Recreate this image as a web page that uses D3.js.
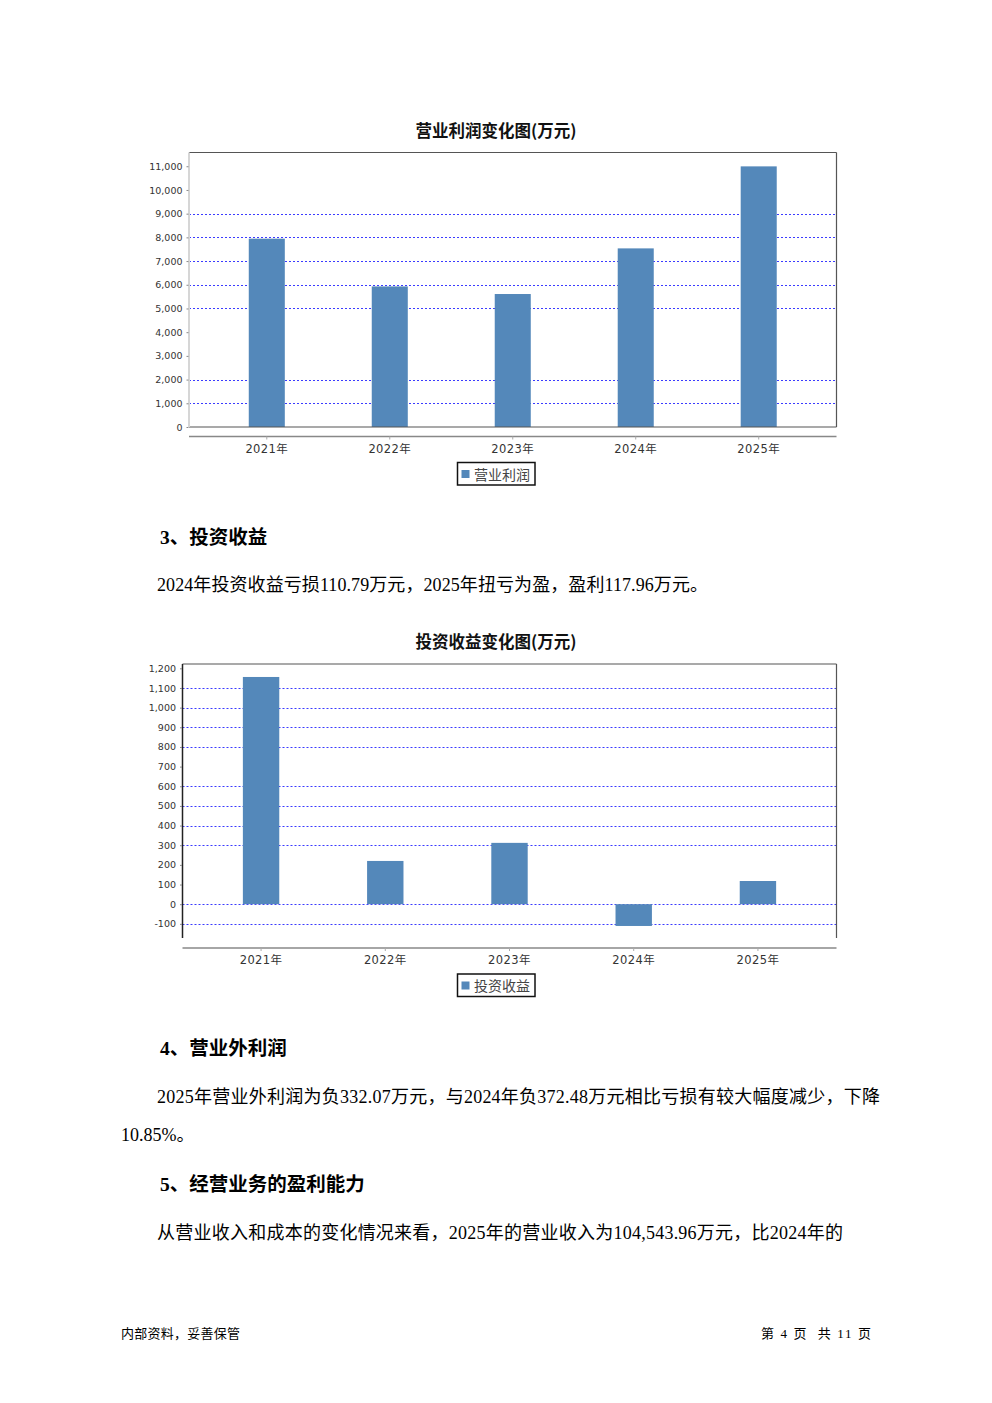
<!DOCTYPE html>
<html><head><meta charset="utf-8">
<script src="https://cdn.jsdelivr.net/npm/d3@7"></script>
<style>html,body{margin:0;padding:0;background:#fff;} svg{display:block;}</style>
</head><body>
<svg id="page" width="992" height="1403"></svg>
<script>
// ---------- data ----------
const years = ["2021年", "2022年", "2023年", "2024年", "2025年"];
const opProfit = [7945, 5930, 5610, 7535, 10995];          // 营业利润 (万元)
const invIncome = [1156, 220, 312, -110.79, 117.96];       // 投资收益 (万元)
const opTickValues = [0, 1000, 2000, 3000, 4000, 5000, 6000, 7000, 8000, 9000, 10000, 11000];
const opTickLabels = ["0", "1,000", "2,000", "3,000", "4,000", "5,000", "6,000", "7,000", "8,000", "9,000", "10,000", "11,000"];
const opGridValues = [1000, 2000, 5000, 6000, 7000, 8000, 9000];
const invTickValues = [-100, 0, 100, 200, 300, 400, 500, 600, 700, 800, 900, 1000, 1100, 1200];
const invTickLabels = ["-100", "0", "100", "200", "300", "400", "500", "600", "700", "800", "900", "1,000", "1,100", "1,200"];
const invGridValues = [-100, 0, 300, 400, 500, 600, 800, 900, 1000, 1100];

const BAR = "#5488ba";
const GRID = "#3b3bff";
const AXISFONT = "'DejaVu Sans','Noto Sans CJK SC',sans-serif";
const CJK = "'Noto Sans CJK SC',sans-serif";
const BODY = "'Liberation Serif','Noto Sans CJK SC',serif";

const svg = d3.select("#page");
svg.append("rect").attr("width", 992).attr("height", 1403).attr("fill", "#fff");

function drawChart(c) {
  const g = svg.append("g");
  const x = d3.scaleBand().domain(years).range([c.left, c.right]).paddingInner(0.707).paddingOuter(0.486);
  const y = d3.scaleLinear().domain(c.domain).range([c.bottom, c.top]);

  // title
  g.append("text").attr("x", 496).attr("y", c.titleY).attr("text-anchor", "middle")
    .attr("dominant-baseline", "central").attr("font-family", CJK).attr("font-weight", 700)
    .attr("font-size", 16.5).attr("fill", "#111").text(c.title);

  // grid
  g.append("g").selectAll("line").data(c.grid).join("line")
    .attr("x1", c.left).attr("x2", c.right)
    .attr("y1", d => Math.round(y(d)) + 0.5).attr("y2", d => Math.round(y(d)) + 0.5)
    .attr("stroke", GRID).attr("stroke-width", 1).attr("stroke-dasharray", "2,2");

  // bars
  g.append("g").selectAll("rect").data(c.values).join("rect")
    .attr("x", (d, i) => x(years[i])).attr("width", x.bandwidth())
    .attr("y", d => y(Math.max(0, d))).attr("height", d => Math.abs(y(d) - y(0)))
    .attr("fill", BAR);

  // border
  g.append("line").attr("x1", c.left).attr("x2", c.right).attr("y1", c.top).attr("y2", c.top)
    .attr("stroke", "#555").attr("stroke-width", 1.2);
  g.append("line").attr("x1", c.right).attr("x2", c.right).attr("y1", c.top).attr("y2", c.bottom)
    .attr("stroke", "#555").attr("stroke-width", 1.2);
  if (c.bottomBorder) {
    g.append("line").attr("x1", c.left).attr("x2", c.right).attr("y1", c.bottom).attr("y2", c.bottom)
      .attr("stroke", "#555").attr("stroke-width", 1.2);
  }
  g.append("line").attr("x1", c.left).attr("x2", c.left).attr("y1", c.top).attr("y2", c.bottom)
    .attr("stroke", c.leftColor).attr("stroke-width", c.leftWidth);

  // y axis
  const ya = g.append("g").attr("transform", `translate(${c.left - 0.5},0)`)
    .call(d3.axisLeft(y).tickValues(c.ticks).tickSize(2).tickPadding(4)
      .tickFormat((d, i) => c.tickLabels[i]));
  ya.select(".domain").remove();
  ya.selectAll(".tick line").attr("stroke", "#888");
  ya.selectAll("text").attr("font-family", AXISFONT).attr("font-size", 9.5).attr("fill", "#333");

  // x axis
  g.append("line").attr("x1", c.left).attr("x2", c.right).attr("y1", c.axisY).attr("y2", c.axisY)
    .attr("stroke", "#888").attr("stroke-width", 1.5);
  const xa = g.append("g").attr("transform", `translate(0,${c.axisY})`)
    .call(d3.axisBottom(x).tickSize(3).tickPadding(5));
  xa.select(".domain").remove();
  xa.selectAll(".tick line").attr("stroke", "#aaa");
  xa.selectAll("text").attr("font-family", AXISFONT).attr("font-size", 11.5).attr("fill", "#333")
    .attr("letter-spacing", "0.4px");

  // legend
  const lg = g.append("g");
  lg.append("rect").attr("x", 457.5).attr("y", c.legendY).attr("width", 77.5).attr("height", 22.5)
    .attr("fill", "#fff").attr("stroke", "#111").attr("stroke-width", 1.5);
  lg.append("rect").attr("x", 461.5).attr("y", c.legendY + 7.5).attr("width", 8).attr("height", 8)
    .attr("fill", BAR);
  lg.append("text").attr("x", 474).attr("y", c.legendY + 11).attr("dominant-baseline", "central")
    .attr("font-family", CJK).attr("font-size", 14).attr("fill", "#444").text(c.legend);
}

drawChart({
  title: "营业利润变化图(万元)", titleY: 130,
  left: 189, right: 836.5, top: 152.5, bottom: 427, domain: [0, 11580],
  values: opProfit, ticks: opTickValues, tickLabels: opTickLabels, grid: opGridValues,
  leftColor: "#d6d6d6", leftWidth: 2, bottomBorder: true,
  axisY: 436.5, legendY: 462.5, legend: "营业利润"
});

drawChart({
  title: "投资收益变化图(万元)", titleY: 641,
  left: 182.5, right: 836.5, top: 664, bottom: 938, domain: [-172, 1222],
  values: invIncome, ticks: invTickValues, tickLabels: invTickLabels, grid: invGridValues,
  leftColor: "#222", leftWidth: 1.5, bottomBorder: false,
  axisY: 948, legendY: 974, legend: "投资收益"
});

// ---------- body text ----------
function txt(x, y, s, size, opts = {}) {
  const t = svg.append("text").attr("x", x).attr("y", y).attr("dominant-baseline", "central")
    .attr("font-family", opts.family || BODY).attr("font-size", size)
    .attr("font-weight", opts.weight || 400).attr("fill", "#000")
    .attr("text-anchor", opts.anchor || "start").style("white-space", "pre").text(s);
  if (opts.len) t.attr("textLength", opts.len).attr("lengthAdjust", "spacing");
  return t;
}
txt(160, 537, "3、投资收益", 19.5, {weight: 700});
txt(157, 585, "2024年投资收益亏损110.79万元，2025年扭亏为盈，盈利117.96万元。", 18, {len: 551});
txt(160, 1048, "4、营业外利润", 19.5, {weight: 700});
txt(157, 1097, "2025年营业外利润为负332.07万元，与2024年负372.48万元相比亏损有较大幅度减少，下降", 18, {len: 723});
txt(121, 1135, "10.85%。", 18);
txt(160, 1184, "5、经营业务的盈利能力", 19.5, {weight: 700});
txt(157, 1233, "从营业收入和成本的变化情况来看，2025年的营业收入为104,543.96万元，比2024年的", 18, {len: 686});
txt(121, 1333, "内部资料，妥善保管", 13, {len: 119});
txt(761, 1333, "第 4 页  共 11 页", 13, {len: 110});
</script>
</body></html>
